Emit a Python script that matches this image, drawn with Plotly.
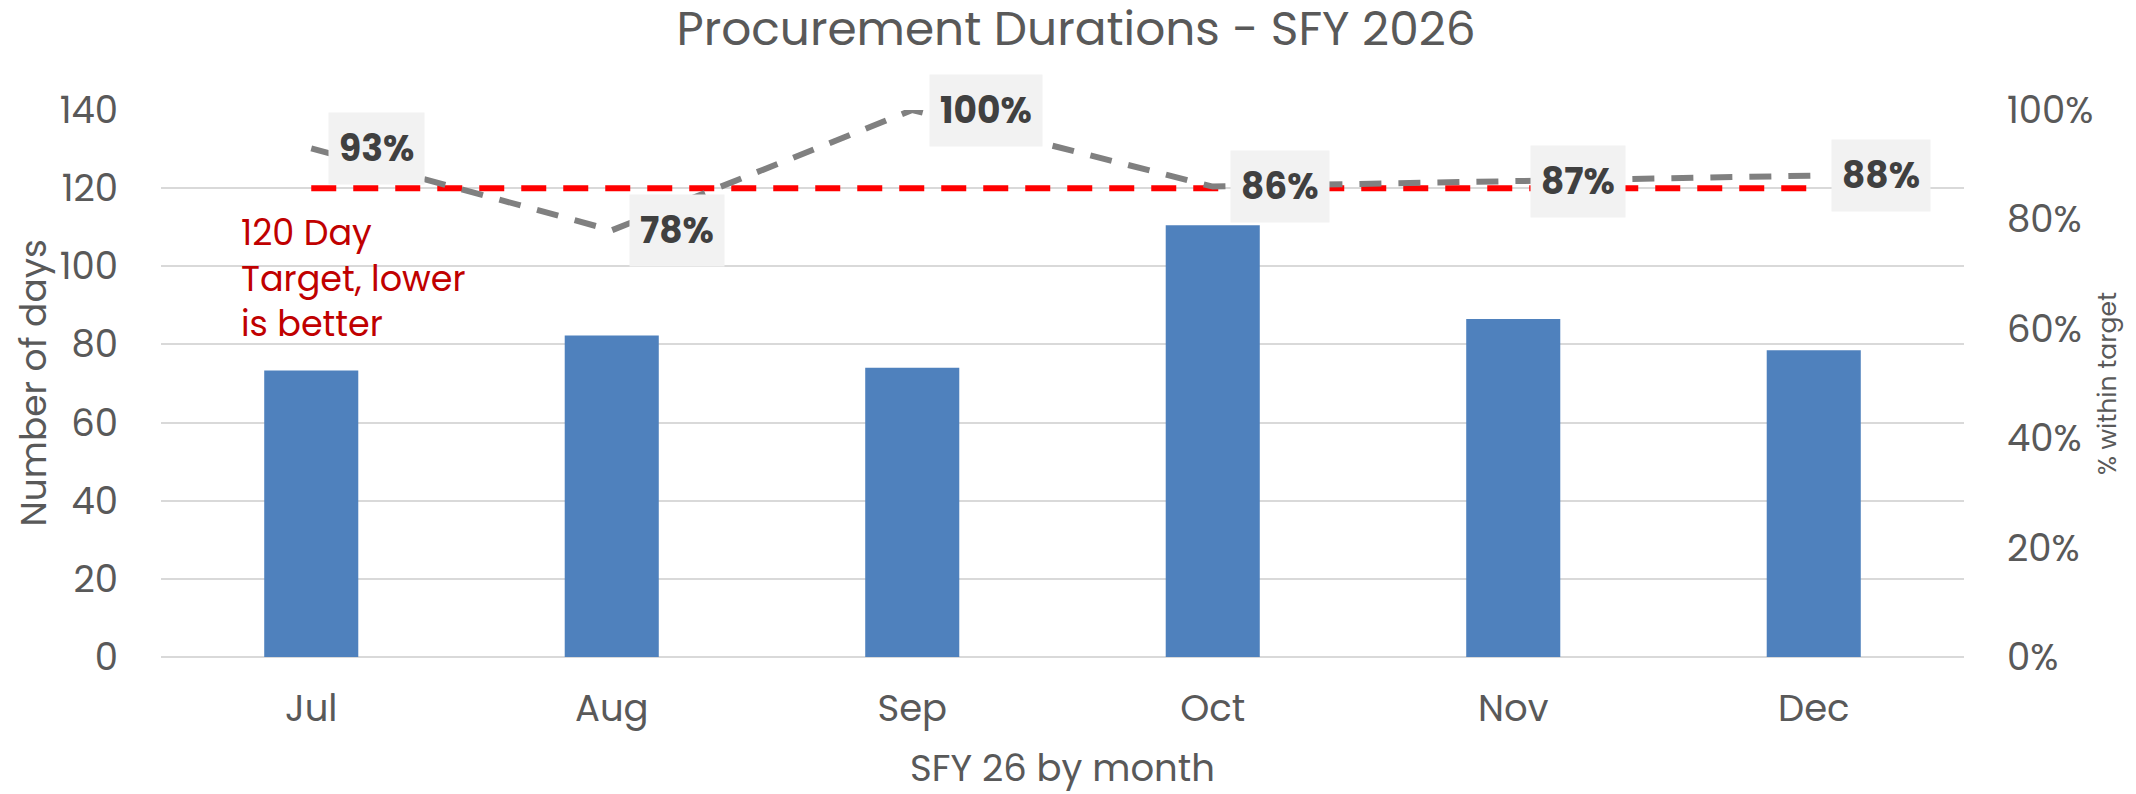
import plotly.graph_objects as go

months = ["Jul", "Aug", "Sep", "Oct", "Nov", "Dec"]
days = [73.3, 82.3, 74.0, 110.5, 86.5, 78.5]
target_days = [120, 120, 120, 120, 120, 120]
pct_within = [0.93, 0.78, 1.00, 0.86, 0.87, 0.88]
pct_labels = ["93%", "78%", "100%", "86%", "87%", "88%"]
note_text = "120 Day<br>Target, lower<br>is better"

FONT = "Poppins, Open Sans, Lato, sans-serif"
GREY_TXT = "#595959"

fig = go.Figure()
fig.add_trace(go.Bar(x=months, y=days, marker=dict(color="#4F81BD", line=dict(width=0)),
                     width=0.313, name="Days", yaxis="y"))
fig.add_trace(go.Scatter(x=months, y=target_days, mode="lines", yaxis="y",
                         line=dict(color="#FF0000", width=6, dash="25px,17px"), name="Target"))
fig.add_trace(go.Scatter(x=months, y=pct_within, mode="lines", yaxis="y2",
                         line=dict(color="#808080", width=6, dash="22px,17px"), name="% within"))

for m, v, t in zip(months, pct_within, pct_labels):
    fig.add_annotation(x=m, y=v, xref="x", yref="y2", text="<b>" + t + "</b>",
                       showarrow=False, xanchor="left", yanchor="middle", xshift=17,
                       bgcolor="#F2F2F2", borderpad=10,
                       font=dict(family=FONT, size=36, color="#404040"))

fig.add_annotation(x=0, y=97.0, xref="x", yref="y", xanchor="left", yanchor="middle", xshift=-72,
                   text=note_text, showarrow=False, align="left",
                   font=dict(family=FONT, size=35, color="#C00000"))

# left axis title placed as rotated text left of the tick labels
fig.add_annotation(x=-128 / 1803, y=0.5, xref="paper", yref="paper", xanchor="center",
                   yanchor="middle", text="Number of days", textangle=-90, showarrow=False,
                   font=dict(family=FONT, size=36, color=GREY_TXT))

fig.update_layout(
    width=2136, height=794,
    margin=dict(l=153, r=180, t=102, b=145),
    paper_bgcolor="white", plot_bgcolor="white",
    showlegend=False,
    font=dict(family=FONT, color=GREY_TXT, size=36),
    title=dict(text="Procurement Durations - SFY 2026", x=0.5, xanchor="center",
               y=1, yanchor="top", pad=dict(t=4),
               font=dict(family=FONT, size=47, color=GREY_TXT)),
    xaxis=dict(showgrid=False, showline=False, ticks="", tickfont=dict(size=37, color=GREY_TXT),
               ticklabelstandoff=26,
               title=dict(text="SFY 26 by month", font=dict(size=37, color=GREY_TXT), standoff=22)),
    yaxis=dict(range=[0, 140], dtick=20, showgrid=True, gridcolor="#D9D9D9", gridwidth=2,
               zeroline=True, zerolinecolor="#D9D9D9", zerolinewidth=2, showline=False,
               tickfont=dict(size=37, color=GREY_TXT), ticklabelstandoff=42),
    yaxis2=dict(range=[0, 1], dtick=0.2, tickformat=".0%", overlaying="y", side="right",
                showgrid=False, zeroline=False, showline=False,
                tickfont=dict(size=37, color=GREY_TXT), ticklabelstandoff=42,
                title=dict(text="% within target", font=dict(size=25, color=GREY_TXT), standoff=6)),
)

fig.write_html("out.html")
